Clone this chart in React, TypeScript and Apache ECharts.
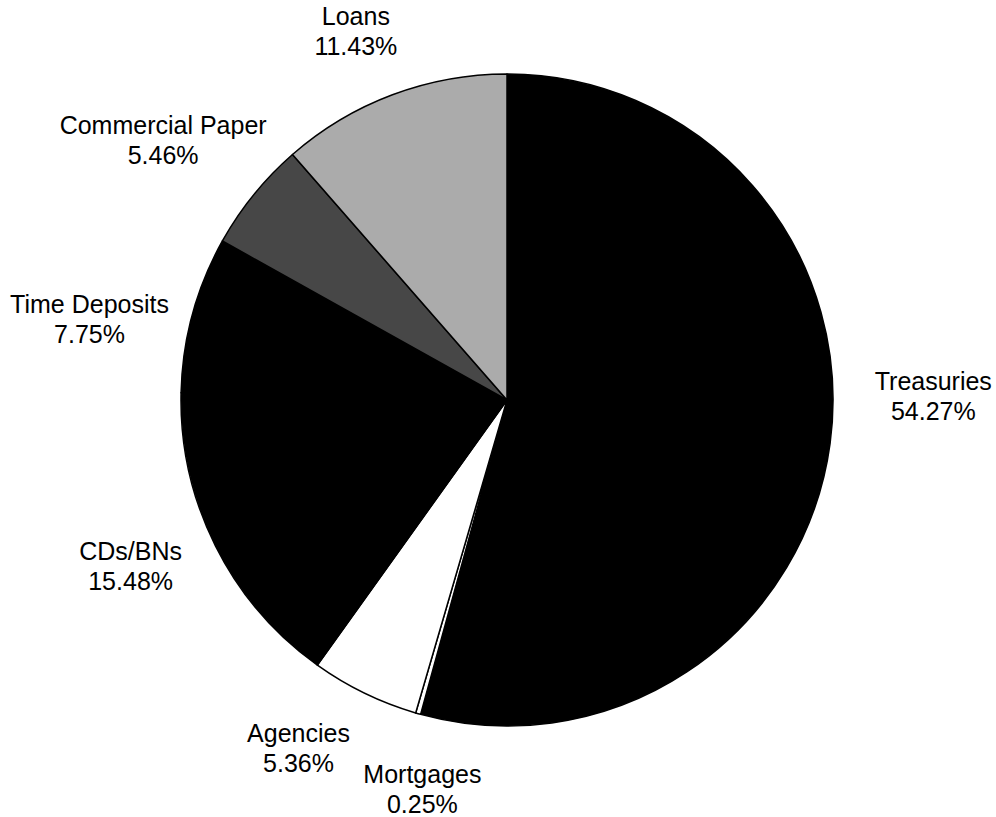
import React, { useEffect, useRef } from "react";
import * as echarts from "echarts";

const categories = ["Treasuries", "Mortgages", "Agencies", "CDs/BNs", "Time Deposits", "Commercial Paper", "Loans"];
const shares = [54.27, 0.25, 5.36, 15.48, 7.75, 5.46, 11.43];
const sliceColors = ["#000000", "#ffffff", "#ffffff", "#000000", "#000000", "#474747", "#ababab"];
// label nudges (px) relative to the default mid-angle label position
const labelNudgeX = [17, 28, -28, -7, -19, -23, -6];
const labelNudgeY = [-59, -8, -23, -19, 28, 0, 18];

export default function App() {
  const ref = useRef<HTMLDivElement>(null);
  useEffect(() => {
    if (!ref.current) return;
    const chart = echarts.init(ref.current, null, { renderer: "svg" });
    const data = categories.map((name, i) => ({
      name,
      value: shares[i],
      itemStyle: { color: sliceColors[i] },
    }));
    const labelData = categories.map((name, i) => ({ name, value: shares[i] }));
    chart.setOption({
      animation: false,
      backgroundColor: "#ffffff",
      series: [
        {
          type: "pie",
          center: [507, 400],
          radius: [0, 326],
          startAngle: 90,
          clockwise: true,
          silent: true,
          label: { show: false },
          labelLine: { show: false },
          itemStyle: { borderColor: "#000000", borderWidth: 1.5 },
          data,
        },
        {
          type: "pie",
          center: [507, 400],
          radius: [395, 425],
          startAngle: 90,
          clockwise: true,
          silent: true,
          minShowLabelAngle: 0,
          itemStyle: { color: "rgba(0,0,0,0)", borderWidth: 0 },
          label: {
            show: true,
            position: "inside",
            color: "#000000",
            fontFamily: "Liberation Sans, Arial, sans-serif",
            fontSize: 25,
            lineHeight: 30,
            align: "center",
            formatter: (p: any) => `${p.name}\n${Number(p.value).toFixed(2)}%`,
          },
          labelLine: { show: false },
          labelLayout: (p: any) => ({
            dx: labelNudgeX[p.dataIndex],
            dy: labelNudgeY[p.dataIndex],
          }),
          data: labelData,
        },
      ],
    });
    return () => chart.dispose();
  }, []);
  return (
    <div
      ref={ref}
      style={{ position: "absolute", left: 0, top: 0, width: 996, height: 817, background: "#fff" }}
    />
  );
}
